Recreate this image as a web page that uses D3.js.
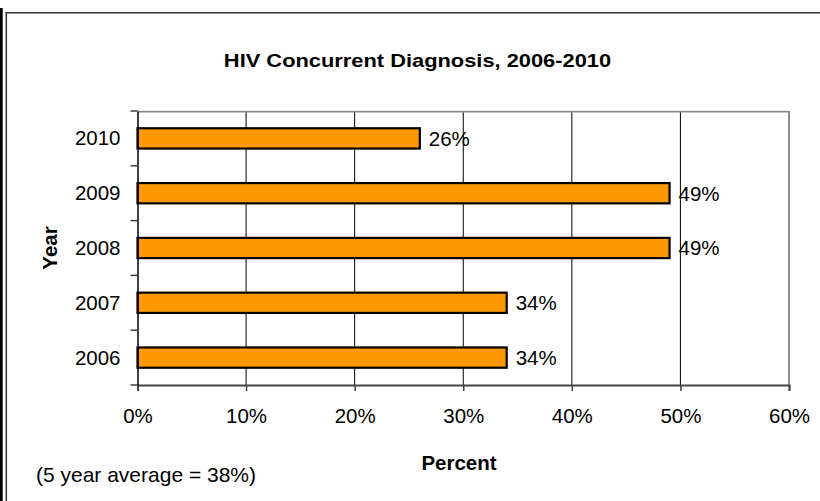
<!DOCTYPE html>
<html>
<head>
<meta charset="utf-8">
<script src="https://cdn.jsdelivr.net/npm/d3@7"></script>
<style>
  html, body { margin: 0; padding: 0; background: #fff; }
  svg { display: block; }
  text { font-family: "Liberation Sans", Arial, Helvetica, sans-serif; fill: #000; }
</style>
</head>
<body>
<svg id="chart" width="820" height="501"></svg>
<script>
// ---- data ----
const years = ["2006", "2007", "2008", "2009", "2010"];
const percentValues = [34, 34, 49, 49, 26];
const xTickValues = [0, 10, 20, 30, 40, 50, 60];
const chartTitle = "HIV Concurrent Diagnosis, 2006-2010";
const xAxisTitle = "Percent";
const yAxisTitle = "Year";
const noteText = "(5 year average = 38%)";

const svg = d3.select("#chart");
const W = 820, H = 501;
const plot = { left: 137.5, right: 789, top: 111, bottom: 385 };

// frame lines
svg.append("rect").attr("x", 0).attr("y", 8).attr("width", 2.7).attr("height", H - 8).attr("fill", "#000");
svg.append("line").attr("x1", 6.3).attr("x2", 6.3).attr("y1", 12.2).attr("y2", H).attr("stroke", "#333").attr("stroke-width", 1.5);
svg.append("line").attr("x1", 5.5).attr("x2", W).attr("y1", 12.8).attr("y2", 12.8).attr("stroke", "#333").attr("stroke-width", 1.5);

const x = d3.scaleLinear().domain([0, 60]).range([plot.left, plot.right]);
const y = d3.scaleBand().domain(years.slice().reverse()).range([plot.top, plot.bottom]).padding(0);

// gridlines
svg.append("g").selectAll("line").data(xTickValues.slice(1, -1)).join("line")
  .attr("x1", d => x(d)).attr("x2", d => x(d))
  .attr("y1", plot.top).attr("y2", plot.bottom)
  .attr("stroke", "#000").attr("stroke-width", 1);

// plot border top & right (gray)
svg.append("line").attr("x1", plot.left).attr("x2", plot.right).attr("y1", plot.top + 0.6).attr("y2", plot.top + 0.6)
  .attr("stroke", "#8c8c8c").attr("stroke-width", 1.8);
svg.append("line").attr("x1", plot.right).attr("x2", plot.right).attr("y1", plot.top).attr("y2", plot.bottom)
  .attr("stroke", "#8c8c8c").attr("stroke-width", 2);

// bars
const data = years.map((yr, i) => ({ year: yr, value: percentValues[i] }));
const barH = y.bandwidth() * 0.37;
svg.append("g").selectAll("rect").data(data).join("rect")
  .attr("x", x(0))
  .attr("y", d => y(d.year) + y.bandwidth() / 2 - barH / 2)
  .attr("width", d => x(d.value) - x(0))
  .attr("height", barH)
  .attr("fill", "#FF9900")
  .attr("stroke", "#000")
  .attr("stroke-width", 2.2);

// value labels
svg.append("g").selectAll("text").data(data).join("text")
  .attr("x", d => x(d.value) + 9)
  .attr("y", d => y(d.year) + y.bandwidth() / 2)
  .attr("dy", "0.36em")
  .attr("font-size", "20.5px")
  .text(d => d.value + "%");

// x axis
const xAxis = d3.axisBottom(x).tickValues(xTickValues).tickFormat(d => d + "%").tickSize(6).tickPadding(17);
const gx = svg.append("g").attr("transform", `translate(0,${plot.bottom})`).call(xAxis);
gx.select(".domain").attr("stroke", "#444").attr("stroke-width", 2);
gx.selectAll(".tick line").attr("stroke", "#444").attr("stroke-width", 1.5);
gx.selectAll(".tick text").attr("font-size", "20.5px").attr("font-family", "Liberation Sans, Arial, sans-serif").attr("fill", "#000");

// y axis: ticks at band boundaries
const yAxis = d3.axisLeft(y).tickSize(0).tickPadding(17);
const gy = svg.append("g").attr("transform", `translate(${plot.left},0)`).call(yAxis);
gy.select(".domain").attr("stroke", "#000").attr("stroke-width", 1.5);
gy.selectAll(".tick text").attr("font-size", "20.5px").attr("font-family", "Liberation Sans, Arial, sans-serif").attr("fill", "#000").attr("dy", "0.34em");
const boundaries = y.domain().map(d => y(d)).concat([plot.bottom]);
gy.append("g").selectAll("line").data(boundaries).join("line")
  .attr("x1", -7).attr("x2", 0)
  .attr("y1", d => d).attr("y2", d => d)
  .attr("stroke", "#444").attr("stroke-width", 1.5);

// title (slightly wide face)
svg.append("text")
  .attr("transform", "translate(417.5,67) scale(1.15,1)")
  .attr("text-anchor", "middle")
  .attr("font-size", "19px").attr("font-weight", "bold")
  .text(chartTitle);

// axis titles
svg.append("text")
  .attr("x", 459).attr("y", 469.5)
  .attr("text-anchor", "middle")
  .attr("font-size", "20.5px").attr("font-weight", "bold")
  .text(xAxisTitle);

svg.append("text")
  .attr("transform", `translate(57,${(plot.top + plot.bottom) / 2}) rotate(-90)`)
  .attr("text-anchor", "middle")
  .attr("font-size", "20.5px").attr("font-weight", "bold")
  .text(yAxisTitle);

// note
svg.append("text")
  .attr("x", 36).attr("y", 481.5)
  .attr("font-size", "21px")
  .text(noteText);
</script>
</body>
</html>
